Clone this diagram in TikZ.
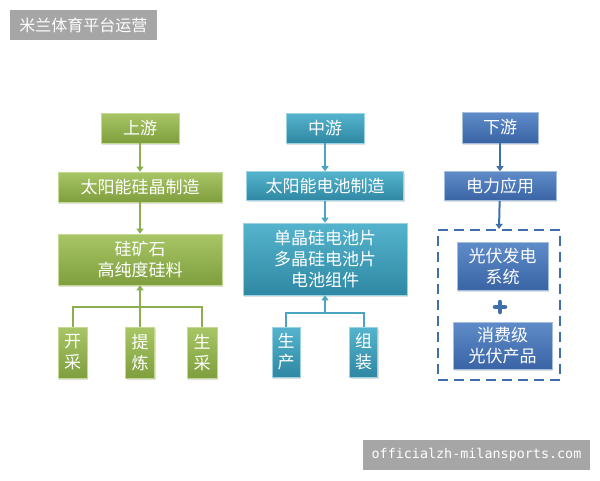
\documentclass[tikz,border=0pt]{standalone}
\usepackage{fontspec}
\newfontfamily\cjk{Noto Sans CJK SC}
\newfontfamily\monof{DejaVu Sans Mono}
\usetikzlibrary{arrows.meta,shadows}
\definecolor{gtop}{HTML}{A8C665}
\definecolor{gbot}{HTML}{7F9E3E}
\definecolor{gedge}{HTML}{C4DA92}
\definecolor{gline}{HTML}{8DAE4E}
\definecolor{ttop}{HTML}{55B4CD}
\definecolor{tbot}{HTML}{2F88A3}
\definecolor{tedge}{HTML}{9AD3E3}
\definecolor{tline}{HTML}{4AA5C2}
\definecolor{dtop}{HTML}{5F8CC9}
\definecolor{dbot}{HTML}{3A64A5}
\definecolor{dedge}{HTML}{A4BEE0}
\definecolor{dline}{HTML}{3F6FAA}
\definecolor{tag}{HTML}{A6A6A6}
\begin{document}
\begin{tikzpicture}[x=1pt,y=-1pt,
  base/.style={inner sep=0pt, align=center, text=white,
    font=\cjk\fontsize{17}{21}\selectfont,
    drop shadow={shadow xshift=1.2pt,shadow yshift=-1.5pt,opacity=0.25}},
  gbox/.style={base, top color=gtop, bottom color=gbot, draw=gedge, line width=0.6pt},
  tbox/.style={base, top color=ttop, bottom color=tbot, draw=tedge, line width=0.6pt},
  dbox/.style={base, top color=dtop, bottom color=dbot, draw=dedge, line width=0.6pt},
  tip/.style={-{Triangle[length=5pt,width=7pt]}},
  gl/.style={draw=gline, line width=2pt},
  tl/.style={draw=tline, line width=2pt},
  dl/.style={draw=dline, line width=2pt},
  tagbox/.style={fill=tag, text=white, inner sep=0pt}
]
\useasboundingbox (0,0) rectangle (600,480);

% title and watermark
\node[tagbox, minimum width=147, minimum height=30, font=\cjk\fontsize{16}{18}\selectfont] (title) at (83.5,25) {米兰体育平台运营};
\node[tagbox, minimum width=227, minimum height=30, font=\monof\fontsize{13.4}{15}\selectfont] (wm) at (476.5,455) {officialzh-milansports.com};

% green column
\node[gbox, minimum width=78, minimum height=30] (up) at (140,128) {上游};
\node[gbox, minimum width=164, minimum height=30] (gmake) at (140,187) {太阳能硅晶制造};
\node[gbox, minimum width=164, minimum height=51] (gsrc) at (140,259.5) {硅矿石\\高纯度硅料};
\node[gbox, minimum width=29, minimum height=51] (g1) at (72.5,352.5) {开\\采};
\node[gbox, minimum width=29, minimum height=51] (g2) at (140,352.5) {提\\炼};
\node[gbox, minimum width=30, minimum height=51] (g3) at (202,352.5) {生\\采};
\draw[gl, tip] (up) -- (gmake);
\draw[gl, tip] (gmake) -- (gsrc);
\coordinate (gbus) at (140,307);
\draw[gl] (g1.north) -- (g1.north |- gbus) -- (g3.north |- gbus) -- (g3.north);
\draw[gl] (g2.north) -- (gbus);
\draw[gl, tip] (gbus) -- (gsrc.south);

% teal column
\node[tbox, minimum width=78, minimum height=30] (mid) at (325,128) {中游};
\node[tbox, minimum width=157, minimum height=29] (tmake) at (325,186) {太阳能电池制造};
\node[tbox, minimum width=164, minimum height=72] (tbig) at (325,259) {单晶硅电池片\\多晶硅电池片\\电池组件};
\node[tbox, minimum width=28, minimum height=50] (t1) at (286,352) {生\\产};
\node[tbox, minimum width=28, minimum height=50] (t2) at (363.5,352) {组\\装};
\draw[tl, tip] (mid) -- (tmake);
\draw[tl, tip] (tmake) -- (tbig);
\coordinate (tbus) at (325,313);
\draw[tl] (t1.north) -- (t1.north |- tbus) -- (t2.north |- tbus) -- (t2.north);
\draw[tl, tip] (tbus) -- (tbig.south);

% dark blue column
\node[dbox, minimum width=76, minimum height=31] (down) at (500,127.5) {下游};
\node[dbox, minimum width=112, minimum height=29] (dapp) at (500,186) {电力应用};
\node[draw=dline, line width=2.2pt, dash pattern=on 10pt off 6pt, minimum width=122, minimum height=150, inner sep=0pt] (dgroup) at (499,305) {};
\node[dbox, minimum width=91, minimum height=48] (d1) at (502.5,266) {光伏发电\\系统};
\node[dbox, minimum width=99, minimum height=47] (d2) at (502.5,345.5) {消费级\\光伏产品};
\draw[dl, tip] (down) -- (dapp);
\draw[dl, tip] (dapp) -- (dgroup.north);
\draw[draw=dline, line width=4.5pt, line cap=round] (495,307) -- (505,307) (500,302) -- (500,312);
\end{tikzpicture}
\end{document}
